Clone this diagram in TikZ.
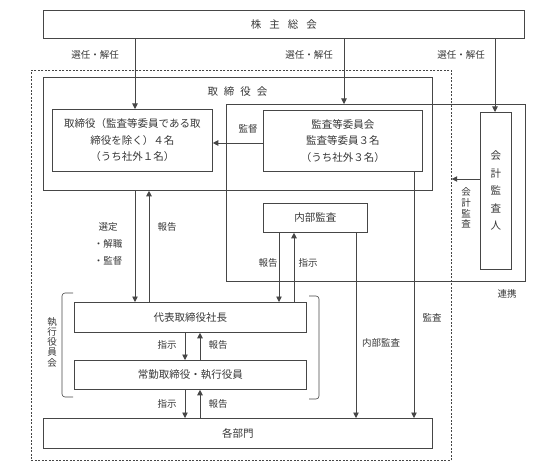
\documentclass[tikz,border=0pt]{standalone}
\usepackage{fontspec}
\newfontfamily\jp{Noto Sans CJK JP}
\usetikzlibrary{arrows.meta}
\definecolor{lc}{RGB}{70,70,70}
\definecolor{tc}{RGB}{55,55,55}
\begin{document}
\begin{tikzpicture}[x=1pt,y=-1pt,
  box/.style={draw=lc, line width=0.8pt, anchor=north west, inner sep=0pt, text=tc,
    font=\jp\fontsize{10.5}{16.5}\selectfont, align=center},
  dbox/.style={draw=lc, line width=0.7pt, dash pattern=on 2pt off 1.5pt, anchor=north west, inner sep=0pt},
  lbl/.style={text=tc, font=\jp\fontsize{9.5}{17}\selectfont, inner sep=0pt, align=center},
  arr/.style={draw=lc, line width=0.7pt, -{Triangle[length=5.5pt,width=5.5pt]}},
  ln/.style={draw=lc, line width=0.7pt},
  brk/.style={draw=lc, line width=0.6pt, rounded corners=3pt}]
\useasboundingbox (0,0) rectangle (554,473);

% boxes
\node[box, minimum width=481pt, minimum height=28pt] (kabu) at (43,10) {株\hspace{8pt}主\hspace{8pt}総\hspace{8pt}会};
\node[dbox, minimum width=420pt, minimum height=390pt] (exec) at (31,70) {};
\node[box, minimum width=389pt, minimum height=113pt] (board) at (43,77) {};
\node[lbl, font=\jp\fontsize{10.5}{12}\selectfont] (boardlbl) at (237.5,92) {取\hspace{6pt}締\hspace{6pt}役\hspace{6pt}会};
\node[box, minimum width=160pt, minimum height=62pt] (dir) at (52,109) {取締役（監査等委員である取\\締役を除く）４名\\（うち社外１名）};
\node[box, minimum width=299pt, minimum height=177pt] (audarea) at (226,104) {};
\node[box, minimum width=159pt, minimum height=61pt] (acm) at (263,110) {監査等委員会\\監査等委員３名\\（うち社外３名）};
\node[box, minimum width=31pt, minimum height=157pt, font=\jp\fontsize{10.5}{17.5}\selectfont] (ca) at (480,112) {会\\計\\監\\査\\人};
\node[box, minimum width=104pt, minimum height=29pt] (ia) at (263,203) {内部監査};
\node[box, minimum width=232pt, minimum height=30pt] (ceo) at (74,302) {代表取締役社長};
\node[box, minimum width=232pt, minimum height=29pt] (exe) at (74,360) {常勤取締役・執行役員};
\node[box, minimum width=389pt, minimum height=30pt] (dept) at (43,418) {各部門};

% helper coordinates
\coordinate (xa) at (135,0);
\coordinate (xb) at (149,0);
\coordinate (xc) at (344,0);
\coordinate (xd) at (495,0);
\coordinate (xe) at (279,0);
\coordinate (xf) at (294,0);
\coordinate (xg) at (356,0);
\coordinate (xh) at (414,0);
\coordinate (xi) at (185,0);
\coordinate (xj) at (200,0);
\coordinate (ya) at (0,143);
\coordinate (yb) at (0,179);

% connectors
\draw[arr] (kabu.south -| xa) -- (dir.north -| xa);
\draw[arr] (kabu.south -| xc) -- (audarea.north -| xc);
\draw[arr] (kabu.south -| xd) -- (ca.north -| xd);
\draw[arr] (acm.west |- ya) -- (dir.east |- ya);
\draw[arr] (ca.west |- yb) -- (exec.east |- yb);
\draw[arr] (board.south -| xa) -- (ceo.north -| xa);
\draw[arr] (ceo.north -| xb) -- (board.south -| xb);
\draw[arr] (ia.south -| xe) -- (ceo.north -| xe);
\draw[arr] (ceo.north -| xf) -- (ia.south -| xf);
\draw[arr] (ia.south -| xg) -- (dept.north -| xg);
\draw[arr] (acm.south -| xh) -- (dept.north -| xh);
\draw[arr] (ceo.south -| xi) -- (exe.north -| xi);
\draw[arr] (exe.north -| xj) -- (ceo.south -| xj);
\draw[arr] (exe.south -| xi) -- (dept.north -| xi);
\draw[arr] (dept.north -| xj) -- (exe.south -| xj);

% brackets
\draw[brk] (73,293) -- (62,293) -- (62,397) -- (73,397);
\draw[brk] (309,296) -- (319,296) -- (319,399) -- (309,399);

% labels
\node[lbl] (l1) at (95,55) {選任・解任};
\node[lbl] (l2) at (309,55) {選任・解任};
\node[lbl] (l3) at (461,55) {選任・解任};
\node[lbl] (l4) at (248,129) {監督};
\node[lbl, font=\jp\fontsize{9.5}{10.8}\selectfont] (l5) at (466,208) {会\\計\\監\\査};
\node[lbl] (l6) at (507,294) {連携};
\node[lbl] (l7) at (268,263) {報告};
\node[lbl] (l8) at (308,263) {指示};
\node[lbl] (l9) at (381,343) {内部監査};
\node[lbl] (l10) at (432,318) {監査};
\node[lbl] (l11) at (167,227) {報告};
\node[lbl] (l12) at (108,244) {選定\\・解職\\・監督};
\node[lbl, font=\jp\fontsize{9.5}{10.3}\selectfont] (l13) at (52,342) {執\\行\\役\\員\\会};
\node[lbl] (l14) at (167,345) {指示};
\node[lbl] (l15) at (218,345) {報告};
\node[lbl] (l16) at (167,404) {指示};
\node[lbl] (l17) at (218,404) {報告};
\end{tikzpicture}
\end{document}
